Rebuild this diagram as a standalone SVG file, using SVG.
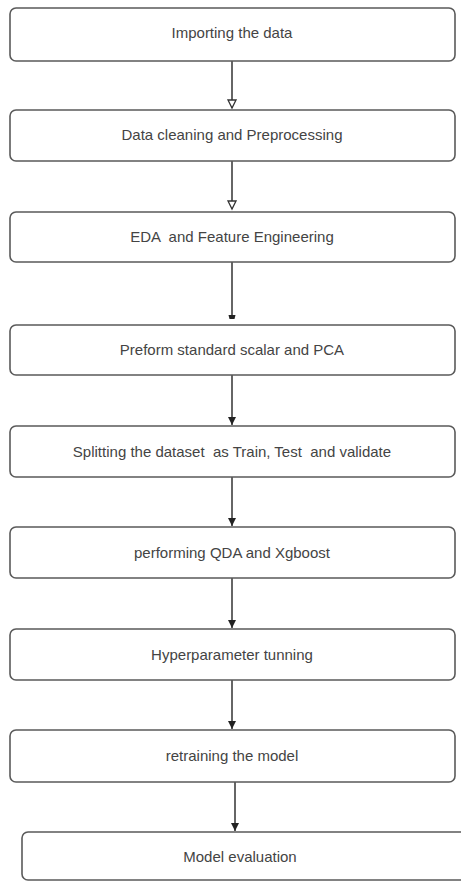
<svg xmlns="http://www.w3.org/2000/svg" width="461" height="881" viewBox="0 0 461 881">
<style>
.box{fill:#fff;stroke:#5a5a5a;stroke-width:1.6}
.lbl{font-family:"Liberation Sans",Arial,sans-serif;font-size:15px;fill:#444;text-anchor:middle}
.edge{stroke:#333;stroke-width:1.5;fill:none}
</style>
<defs>
<marker id="filled" markerUnits="userSpaceOnUse" markerWidth="10" markerHeight="9" refX="8" refY="4" orient="auto">
<path d="M0,0 L8,4 L0,8 z" fill="#222"/>
</marker>
<marker id="hollow" markerUnits="userSpaceOnUse" markerWidth="12" markerHeight="11" refX="9" refY="5" orient="auto">
<path d="M1,1 L9,5 L1,9 z" fill="#fff" stroke="#333" stroke-width="1.3"/>
</marker>
<marker id="tiny" markerUnits="userSpaceOnUse" markerWidth="6" markerHeight="8" refX="4" refY="4" orient="auto">
<path d="M0,0.5 L4,1.5 L4,6.5 L0,7.5 z" fill="#222"/>
</marker>
</defs>
<rect width="461" height="881" fill="#fff"/>
<g id="connectors">
<path class="edge" d="M232,61 V108" marker-end="url(#hollow)"/>
<path class="edge" d="M232,161 V209" marker-end="url(#hollow)"/>
<path class="edge" d="M232,262 V319" marker-end="url(#tiny)"/>
<path class="edge" d="M232,375 V425" marker-end="url(#filled)"/>
<path class="edge" d="M232,477 V526" marker-end="url(#filled)"/>
<path class="edge" d="M232,578 V628" marker-end="url(#filled)"/>
<path class="edge" d="M232,680 V729" marker-end="url(#filled)"/>
<path class="edge" d="M235,782 V831" marker-end="url(#filled)"/>
</g>
<g id="n1"><rect class="box" x="10" y="8" width="445" height="53" rx="6"/><text class="lbl" x="232" y="38">Importing the data</text></g>
<g id="n2"><rect class="box" x="10" y="110" width="445" height="51" rx="6"/><text class="lbl" x="232" y="140">Data cleaning and Preprocessing</text></g>
<g id="n3"><rect class="box" x="10" y="212" width="445" height="50" rx="6"/><text class="lbl" x="232" y="242" xml:space="preserve">EDA  and Feature Engineering</text></g>
<g id="n4"><rect class="box" x="10" y="325" width="445" height="50" rx="6"/><text class="lbl" x="232" y="355">Preform standard scalar and PCA</text></g>
<g id="n5"><rect class="box" x="10" y="426" width="445" height="51" rx="6"/><text class="lbl" x="232" y="457" xml:space="preserve">Splitting the dataset  as Train, Test  and validate</text></g>
<g id="n6"><rect class="box" x="10" y="527" width="445" height="51" rx="6"/><text class="lbl" x="232" y="558">performing QDA and Xgboost</text></g>
<g id="n7"><rect class="box" x="10" y="629" width="445" height="51" rx="6"/><text class="lbl" x="232" y="660">Hyperparameter tunning</text></g>
<g id="n8"><rect class="box" x="10" y="730" width="445" height="52" rx="6"/><text class="lbl" x="232" y="761">retraining the model</text></g>
<g id="n9"><rect class="box" x="22" y="832" width="460" height="48" rx="6"/><text class="lbl" x="240" y="862">Model evaluation</text></g>
</svg>
